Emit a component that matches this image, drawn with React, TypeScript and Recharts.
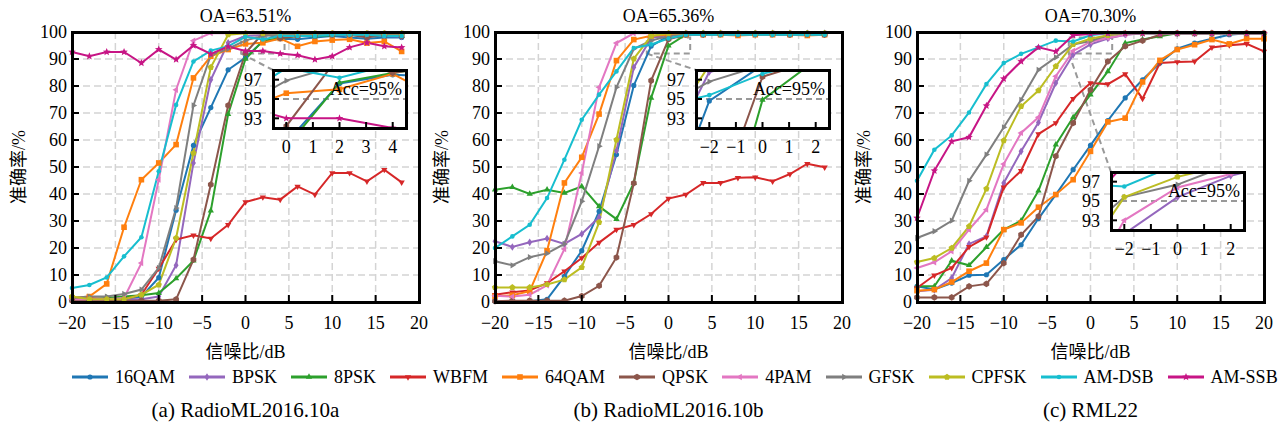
import React from 'react';
import { LineChart, Line, XAxis, YAxis, CartesianGrid, ReferenceLine, ReferenceArea } from 'recharts';

// SNR grids (dB)
const SNR_2016 = [-20, -18, -16, -14, -12, -10, -8, -6, -4, -2, 0, 2, 4, 6, 8, 10, 12, 14, 16, 18];
const SNR_22 = [-20, -18, -16, -14, -12, -10, -8, -6, -4, -2, 0, 2, 4, 6, 8, 10, 12, 14, 16, 18, 20];

// RadioML2016.10a accuracy (%)
const A_16QAM = [1, 1, 1, 1, 2, 9, 34, 58, 72, 86, 90.5, 96.6, 97.5, 97.3, 98, 98.5, 98, 97.5, 98, 98];
const A_BPSK = [1, 1, 1, 1, 1, 2, 13.6, 51.5, 82.3, 96, 98.5, 99, 99, 99, 99, 99, 99, 98.5, 98.5, 98.3];
const A_8PSK = [1, 1, 1.5, 2, 2.5, 3.3, 8.7, 15.3, 33.8, 69.6, 90, 96.7, 97.7, 98.5, 98.5, 98.8, 99, 98.5, 99, 98.5];
const A_WBFM = [1, 1.5, 1, 1, 2.7, 12.4, 23.1, 24.7, 23.5, 28.6, 37, 38.8, 37.9, 42.8, 39.8, 47.8, 47.8, 44.7, 49, 44.3];
const A_64QAM = [1.5, 2, 6.7, 27.7, 45.3, 51.5, 58.3, 83, 91, 93.5, 95.6, 96, 97.6, 94.7, 96.5, 97, 97.3, 95.9, 96.5, 92.8];
const A_QPSK = [0.5, 0.5, 0.5, 0.5, 0.5, 0.5, 1, 15.7, 43.5, 72.8, 92.2, 99.5, 97.7, 98.5, 99, 99, 99, 98, 99, 98.5];
const A_4PAM = [1, 1, 1, 1.5, 14.4, 45.3, 78.6, 96.8, 99.6, 99.5, 99.5, 99.5, 99.5, 99.5, 99.5, 99.5, 99.5, 99.5, 99.5, 99.5];
const A_GFSK = [1.5, 2, 2, 3, 4.6, 12.6, 34.8, 72.8, 91.4, 93.8, 96.9, 98.5, 99, 99, 99, 99, 99, 99, 99, 99];
const A_CPFSK = [2, 1, 1, 1, 2.7, 6.4, 23.7, 55.2, 86.9, 99, 99.5, 99.5, 99.5, 99.5, 99.5, 99.5, 99.5, 99.5, 99.5, 99.5];
const A_AMDSB = [5.2, 6.3, 9.1, 16.9, 24, 48.4, 73, 89.1, 93.1, 94.7, 98.2, 97.2, 98.6, 98.5, 98.5, 99, 99, 99, 98.5, 98.5];
const A_AMSSB = [92.6, 91, 92.6, 92.6, 88.5, 93.5, 89.8, 95, 91.9, 94.6, 93, 93, 92, 91.4, 89.8, 91, 94.3, 96, 94.7, 94.3];

// RadioML2016.10b accuracy (%)
const B_16QAM = [0.3, 0.3, 0.3, 1, 9.5, 19, 33.6, 54.6, 80.2, 94.8, 98.5, 99.5, 99.5, 99.5, 99.5, 99.5, 99.5, 99.5, 99.5, 99.5];
const B_BPSK = [22.5, 20.4, 22.1, 23.5, 21.5, 25.2, 31.4, 56, 86.9, 97.8, 99, 99.5, 99.5, 99.5, 99.5, 99.5, 99.5, 99.5, 99.5, 99.5];
const B_8PSK = [41.6, 42.5, 40, 41.6, 40.4, 42.8, 35.4, 30.7, 44.1, 75.6, 94.9, 99, 99.5, 99.5, 99.5, 99.5, 99.5, 99.5, 99.5, 99.5];
const B_WBFM = [2.7, 3.6, 4.3, 7, 11.4, 16.3, 22, 26.8, 28.6, 32.6, 38.3, 39.8, 44.1, 44.1, 46, 46.2, 44.7, 47.4, 51.2, 49.9];
const B_64QAM = [2.1, 2.5, 4, 19, 44.1, 53.6, 69.6, 89.4, 97.2, 98.6, 99, 99, 99, 99, 98.7, 99, 99, 99, 98.7, 99];
const B_QPSK = [0.3, 0.5, 0.5, 0.5, 0.5, 2.2, 6, 16.5, 44, 82, 97.3, 99, 99, 99.2, 99.2, 99.2, 99.2, 99, 99.2, 99];
const B_4PAM = [2.3, 2, 2.7, 6.2, 19.6, 47.8, 79.5, 95.9, 99.5, 99.5, 99.5, 99.5, 99.5, 99.5, 99.5, 99.5, 99.5, 99.5, 99.5, 99.5];
const B_GFSK = [15.1, 13.6, 16.6, 18, 21.5, 37.3, 57.7, 79.5, 93.8, 96.8, 98.5, 99, 99, 99, 99, 99, 99, 99, 99, 99];
const B_CPFSK = [5.4, 5.4, 5.4, 6.5, 8.3, 12.8, 29.5, 60.1, 90.1, 98.5, 99.5, 99.5, 99.5, 99.5, 99.5, 99.5, 99.5, 99.5, 99.5, 99.5];
const B_AMDSB = [20, 24.3, 28.6, 38.5, 52.7, 67.5, 76.8, 85.4, 94.1, 95.4, 97.6, 99, 99, 99, 99, 99, 99, 99, 99, 99];

// RML22 accuracy (%)
const C_16QAM = [5.8, 4.6, 7, 9.9, 10.1, 15.7, 21.2, 30.9, 39.8, 49, 58, 67.2, 75.6, 82.3, 88.5, 93.8, 95.9, 97.5, 99, 99.5, 99.5];
const C_BPSK = [4, 4.5, 8.9, 21.5, 24.3, 44.1, 55.8, 66.5, 81.1, 91.6, 95.4, 97.6, 99, 99.5, 99.5, 99.5, 99.5, 99.5, 99.5, 99.5, 99.5];
const C_8PSK = [5.8, 5.8, 15.3, 13.6, 20.3, 26.8, 30.1, 41.2, 58.3, 68.4, 76.8, 85.4, 95.9, 97.2, 98.4, 99.5, 99.5, 99.5, 99.5, 99.5, 99.5];
const C_WBFM = [5.2, 9.9, 12.6, 20.4, 24, 42.5, 48.6, 62.2, 66.3, 75.3, 81.1, 80.7, 84.4, 75.3, 88.5, 88.9, 89.1, 94.3, 95.1, 95.6, 92.8];
const C_64QAM = [4.2, 4.6, 7.4, 11.4, 14.4, 26.8, 29.3, 35.1, 39.8, 45.3, 55.8, 66.7, 68.1, 81.5, 89.5, 93.5, 95.3, 97.2, 95.6, 97.5, 97.5];
const C_QPSK = [1.7, 1.7, 1.7, 5.8, 6.7, 14.4, 24.9, 31.7, 54, 66.3, 78.6, 89.1, 94.7, 96.8, 99, 99.5, 99.5, 99.5, 99.5, 99.5, 99.5];
const C_4PAM = [12.6, 14.7, 18.8, 26.8, 34.2, 51.1, 62.6, 68.4, 83.6, 93, 96.4, 97.8, 99, 99.5, 99.5, 99.5, 99.5, 99.5, 99.5, 99.5, 99.5];
const C_GFSK = [23.7, 26.2, 30.1, 44.9, 54.6, 64.7, 74.9, 86, 90.6, 95.4, 96.7, 98.8, 99.5, 99.5, 99.5, 99.5, 99.5, 99.5, 99.5, 99.5, 99.5];
const C_CPFSK = [14.8, 16.3, 20, 28, 41.9, 59.8, 72.5, 78.3, 87.3, 95.4, 97.5, 98.8, 99.5, 99.5, 99.5, 99.5, 99.5, 99.5, 99.5, 99.5, 99.5];
const C_AMDSB = [44.9, 56.4, 61.7, 70.2, 80.7, 88.5, 91.9, 94.3, 96.8, 96.5, 98.8, 99.5, 99.5, 99.5, 99.5, 99.5, 99.5, 99.5, 99.5, 99.5, 99.5];
const C_AMSSB = [31.1, 48.6, 59.5, 61, 72.7, 82.7, 89.1, 94.3, 92.8, 98.8, 99.3, 99.5, 99.5, 99.5, 99.5, 99.5, 99.5, 99.5, 99.5, 99.5, 99.5];

const X_TICKS = [-20, -15, -10, -5, 0, 5, 10, 15, 20];
const Y_TICKS = [0, 10, 20, 30, 40, 50, 60, 70, 80, 90, 100];
const ZOOM_Y_TICKS = [93, 95, 97];

const SERIES = [
  { name: '16QAM', color: '#1f77b4', shape: 'circle' },
  { name: 'BPSK', color: '#9467bd', shape: 'diamond' },
  { name: '8PSK', color: '#2ca02c', shape: 'up' },
  { name: 'WBFM', color: '#d62728', shape: 'down' },
  { name: '64QAM', color: '#ff7f0e', shape: 'square' },
  { name: 'QPSK', color: '#8c564b', shape: 'hexagon' },
  { name: '4PAM', color: '#e377c2', shape: 'left' },
  { name: 'GFSK', color: '#7f7f7f', shape: 'right' },
  { name: 'CPFSK', color: '#bcbd22', shape: 'pentagon' },
  { name: 'AM-DSB', color: '#17becf', shape: 'dot' },
  { name: 'AM-SSB', color: '#c71585', shape: 'star' },
];

const buildRows = (snr: number[], cols: Record<string, number[]>) =>
  snr.map((s, i) => {
    const row: Record<string, number> = { snr: s };
    Object.keys(cols).forEach((k) => (row[k] = cols[k][i]));
    return row;
  });

const ROWS_A = buildRows(SNR_2016, {
  '16QAM': A_16QAM, BPSK: A_BPSK, '8PSK': A_8PSK, WBFM: A_WBFM, '64QAM': A_64QAM, QPSK: A_QPSK,
  '4PAM': A_4PAM, GFSK: A_GFSK, CPFSK: A_CPFSK, 'AM-DSB': A_AMDSB, 'AM-SSB': A_AMSSB,
});
const ROWS_B = buildRows(SNR_2016, {
  '16QAM': B_16QAM, BPSK: B_BPSK, '8PSK': B_8PSK, WBFM: B_WBFM, '64QAM': B_64QAM, QPSK: B_QPSK,
  '4PAM': B_4PAM, GFSK: B_GFSK, CPFSK: B_CPFSK, 'AM-DSB': B_AMDSB,
});
const ROWS_C = buildRows(SNR_22, {
  '16QAM': C_16QAM, BPSK: C_BPSK, '8PSK': C_8PSK, WBFM: C_WBFM, '64QAM': C_64QAM, QPSK: C_QPSK,
  '4PAM': C_4PAM, GFSK: C_GFSK, CPFSK: C_CPFSK, 'AM-DSB': C_AMDSB, 'AM-SSB': C_AMSSB,
});

const FONT = '"Liberation Serif", "Times New Roman", "Noto Sans CJK SC", serif';
const FS = 18;
const GRID = '#d4d4d4';
const ZOOM_LINE = '#999';

// geometry of one panel
const CHART_W = 430;
const CHART_H = 340;
const PLOT_L = 72;
const PLOT_T = 32;
const PLOT_W = 347;
const PLOT_H = 270;
const BOX_W = 133;
const BOX_H = 58;

const fmt = (v: number) => (v < 0 ? `\u2212${-v}` : `${v}`);

const poly = (cx: number, cy: number, r: number, n: number, rot: number) =>
  Array.from({ length: n }, (_, i) => {
    const a = rot + (i * 2 * Math.PI) / n;
    return `${cx + r * Math.cos(a)},${cy + r * Math.sin(a)}`;
  }).join(' ');

const starPts = (cx: number, cy: number, r: number) =>
  Array.from({ length: 10 }, (_, i) => {
    const a = -Math.PI / 2 + (i * Math.PI) / 5;
    const rr = i % 2 === 0 ? r : r * 0.45;
    return `${cx + rr * Math.cos(a)},${cy + rr * Math.sin(a)}`;
  }).join(' ');

const Marker = ({ shape, cx, cy, color }: { shape: string; cx: number; cy: number; color: string }) => {
  const r = 3.3;
  switch (shape) {
    case 'circle':
      return <circle cx={cx} cy={cy} r={2.6} fill={color} />;
    case 'dot':
      return <circle cx={cx} cy={cy} r={2.3} fill={color} />;
    case 'diamond':
      return <polygon points={`${cx},${cy - r * 1.15} ${cx + r * 0.75},${cy} ${cx},${cy + r * 1.15} ${cx - r * 0.75},${cy}`} fill={color} />;
    case 'up':
      return <polygon points={poly(cx, cy, r * 1.1, 3, -Math.PI / 2)} fill={color} />;
    case 'down':
      return <polygon points={poly(cx, cy, r * 1.1, 3, Math.PI / 2)} fill={color} />;
    case 'left':
      return <polygon points={poly(cx, cy, r * 1.1, 3, Math.PI)} fill={color} />;
    case 'right':
      return <polygon points={poly(cx, cy, r * 1.1, 3, 0)} fill={color} />;
    case 'square':
      return <rect x={cx - 2.8} y={cy - 2.8} width={5.6} height={5.6} fill={color} />;
    case 'hexagon':
      return <polygon points={poly(cx, cy, r, 6, -Math.PI / 2)} fill={color} />;
    case 'pentagon':
      return <polygon points={poly(cx, cy, r, 5, -Math.PI / 2)} fill={color} />;
    case 'star':
      return <polygon points={starPts(cx, cy, r * 1.2)} fill={color} />;
    default:
      return <circle cx={cx} cy={cy} r={r} fill={color} />;
  }
};

const dotFor = (shape: string, color: string) => (p: any) => {
  if (p.cx == null || p.cy == null) return <g key={p.index} />;
  return <Marker key={p.index} shape={shape} cx={p.cx} cy={p.cy} color={color} />;
};

// inward tick marks with labels outside the frame
const XTick = (props: any) => {
  const { x, y, payload, gap, len, edges } = props;
  const base = y - gap;
  const onEdge = edges && edges.includes(payload.value);
  return (
    <g>
      {!onEdge && <line x1={x} x2={x} y1={base} y2={base - len} stroke="#000" strokeWidth={2} />}
      <text x={x} y={y} dy="0.72em" textAnchor="middle" fontSize={FS} fill="#000" fontFamily={FONT}>
        {fmt(payload.value)}
      </text>
    </g>
  );
};

const YTick = (props: any) => {
  const { x, y, payload, gap, len, edges } = props;
  const base = x + gap;
  const onEdge = edges && edges.includes(payload.value);
  return (
    <g>
      {!onEdge && <line x1={base} x2={base + len} y1={y} y2={y} stroke="#000" strokeWidth={2} />}
      <text x={x} y={y} dy="0.35em" textAnchor="end" fontSize={FS} fill="#000" fontFamily={FONT}>
        {fmt(payload.value)}
      </text>
    </g>
  );
};

// pixel inside a panel -> main-axis data coordinates
const toData = (px: number, py: number) => ({
  x: -20 + ((px - PLOT_L) / PLOT_W) * 40,
  y: 100 - ((py - PLOT_T) / PLOT_H) * 100,
});

type PanelProps = {
  left: number;
  rows: Record<string, number>[];
  names: string[];
  title: string;
  caption: string;
  zoomX: [number, number];
  zoomTicks: number[];
  box: { x: number; y: number };
};

const Panel = ({ left, rows, names, title, caption, zoomX, zoomTicks, box }: PanelProps) => {
  const series = SERIES.filter((s) => names.includes(s.name));
  const corner = toData(box.x, box.y);
  const insetLeft = box.x - 40;
  const insetTop = box.y - 4;
  return (
    <div style={{ position: 'absolute', left, top: 0, width: CHART_W, height: 432 }}>
      <div style={{ position: 'absolute', left: PLOT_L, top: 6, width: PLOT_W, textAlign: 'center', fontSize: FS, lineHeight: '20px' }}>
        {title}
      </div>
      <div
        style={{
          position: 'absolute', left: 19 - 60, top: PLOT_T + PLOT_H / 2 - 10, width: 120, height: 20,
          textAlign: 'center', fontSize: FS, lineHeight: '20px', transform: 'rotate(-90deg)',
        }}
      >
        准确率/%
      </div>
      <div style={{ position: 'absolute', left: 0, top: 0 }}>
        <LineChart width={CHART_W} height={CHART_H} data={rows} margin={{ top: PLOT_T, right: CHART_W - PLOT_L - PLOT_W, bottom: 8, left: 0 }}>
          <CartesianGrid stroke={GRID} strokeDasharray="7 4" strokeWidth={1.5} />
          <XAxis
            dataKey="snr" type="number" domain={[-20, 20]} ticks={X_TICKS} interval={0} height={30}
            axisLine={false} tickLine={false} tickSize={0} tickMargin={14}
            tick={<XTick gap={14} len={7} edges={[-20, 20]} />}
          />
          <YAxis
            type="number" domain={[0, 100]} ticks={Y_TICKS} interval={0} width={PLOT_L}
            axisLine={false} tickLine={false} tickSize={0} tickMargin={5}
            tick={<YTick gap={5} len={7} edges={[0, 100]} />}
          />
          <ReferenceArea x1={zoomX[0]} x2={zoomX[1]} y1={92} y2={98} fill="none" stroke={ZOOM_LINE} strokeWidth={2} strokeDasharray="6 4" />
          <ReferenceLine
            segment={[{ x: zoomX[0], y: 92 }, { x: corner.x, y: corner.y }]}
            stroke={ZOOM_LINE} strokeWidth={2} strokeDasharray="6 4"
          />
          {series.map((s) => (
            <Line
              key={s.name} dataKey={s.name} stroke={s.color} strokeWidth={2}
              dot={dotFor(s.shape, s.color)} activeDot={false} isAnimationActive={false}
            />
          ))}
        </LineChart>
      </div>
      <div style={{ position: 'absolute', left: PLOT_L - 1.5, top: PLOT_T - 1.5, width: PLOT_W + 3, height: PLOT_H + 3, border: '3px solid #000', boxSizing: 'border-box' }} />

      {/* zoomed view around the 95% threshold */}
      <div style={{ position: 'absolute', left: box.x, top: box.y, width: BOX_W, height: BOX_H, background: '#fff' }} />
      <div style={{ position: 'absolute', left: insetLeft, top: insetTop }}>
        <LineChart width={BOX_W + 46} height={BOX_H + 38} data={rows} margin={{ top: 4, right: 6, bottom: 2, left: 0 }}>
          <XAxis
            dataKey="snr" type="number" domain={zoomX} allowDataOverflow ticks={zoomTicks} interval={0} height={32}
            axisLine={false} tickLine={false} tickSize={0} tickMargin={12}
            tick={<XTick gap={12} len={6} />}
          />
          <YAxis
            type="number" domain={[92, 98]} allowDataOverflow ticks={ZOOM_Y_TICKS} interval={0} width={40}
            axisLine={false} tickLine={false} tickSize={0} tickMargin={11}
            tick={<YTick gap={11} len={6} />}
          />
          <ReferenceLine
            y={95} stroke={ZOOM_LINE} strokeWidth={2} strokeDasharray="6 4"
            label={{ value: 'Acc=95%', position: 'insideBottomRight', offset: 4, fontSize: FS, fill: '#000', fontFamily: FONT }}
          />
          {series.map((s) => (
            <Line
              key={s.name} dataKey={s.name} stroke={s.color} strokeWidth={2}
              dot={dotFor(s.shape, s.color)} activeDot={false} isAnimationActive={false}
            />
          ))}
        </LineChart>
      </div>
      <div style={{ position: 'absolute', left: box.x - 1.5, top: box.y - 1.5, width: BOX_W + 3, height: BOX_H + 3, border: '3px solid #000', boxSizing: 'border-box' }} />

      <div style={{ position: 'absolute', left: PLOT_L, top: 342, width: PLOT_W, textAlign: 'center', fontSize: FS, lineHeight: '20px' }}>
        信噪比/dB
      </div>
      <div style={{ position: 'absolute', left: PLOT_L - 40, top: 399, width: PLOT_W + 80, textAlign: 'center', fontSize: 21, lineHeight: '22px' }}>
        {caption}
      </div>
    </div>
  );
};

const LegendRow = () => (
  <div style={{ position: 'absolute', left: 72, top: 368, display: 'flex', alignItems: 'center', gap: 14 }}>
    {SERIES.map((s) => (
      <div key={s.name} style={{ display: 'flex', alignItems: 'center' }}>
        <svg width={36} height={14}>
          <line x1={0} x2={36} y1={7} y2={7} stroke={s.color} strokeWidth={3} />
          <Marker shape={s.shape} cx={18} cy={7} color={s.color} />
        </svg>
        <span style={{ marginLeft: 7, fontSize: FS, lineHeight: '18px' }}>{s.name}</span>
      </div>
    ))}
  </div>
);

const NAMES_11 = SERIES.map((s) => s.name);
const NAMES_10 = NAMES_11.filter((n) => n !== 'AM-SSB');

export default function App() {
  return (
    <div style={{ position: 'absolute', left: 0, top: 0, width: 1284, height: 432, background: '#fff', overflow: 'hidden', fontFamily: FONT, color: '#000' }}>
      <Panel left={0} rows={ROWS_A} names={NAMES_11} title="OA=63.51%" caption="(a)  RadioML2016.10a"
        zoomX={[-0.5, 4.5]} zoomTicks={[0, 1, 2, 3, 4]} box={{ x: 273, y: 70 }} />
      <Panel left={423} rows={ROWS_B} names={NAMES_10} title="OA=65.36%" caption="(b)  RadioML2016.10b"
        zoomX={[-2.5, 2.5]} zoomTicks={[-2, -1, 0, 1, 2]} box={{ x: 273, y: 70 }} />
      <Panel left={845} rows={ROWS_C} names={NAMES_11} title="OA=70.30%" caption="(c)  RML22"
        zoomX={[-2.5, 2.5]} zoomTicks={[-2, -1, 0, 1, 2]} box={{ x: 266, y: 172 }} />
      <LegendRow />
    </div>
  );
}
